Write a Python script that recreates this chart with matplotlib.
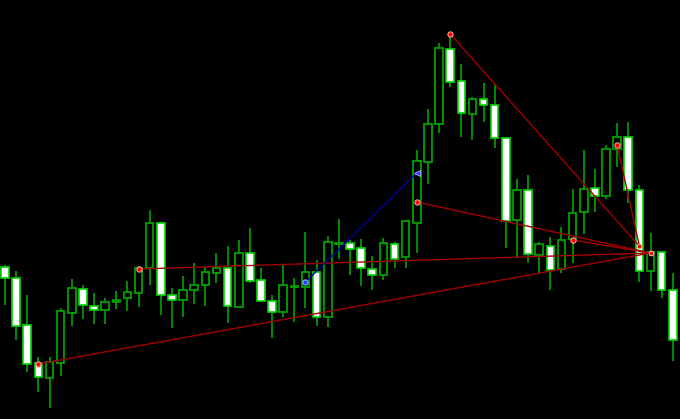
import matplotlib
matplotlib.use("Agg")
import matplotlib.pyplot as plt
from matplotlib.patches import Rectangle

opens  = [152,141,94,56,41,56,106,130,113,109,117,121,126,151,196,124,119,129,134,146,
          151,112,166,139,118,107,132,132,147,102,175,176,171,150,144,175,162,196,257,295,
          370,338,305,320,314,281,199,229,164,173,150,180,207,231,223,270,282,229,148,167,129]
highs  = [154,148,124,62,62,111,140,134,126,121,128,138,153,209,197,131,143,156,152,166,
          173,179,191,151,124,155,141,187,159,183,200,179,180,163,181,177,198,269,310,376,
          386,355,322,336,334,281,240,244,177,182,192,230,269,250,274,296,297,234,186,167,146]
lows   = [114,79,47,27,11,43,93,100,95,95,110,108,112,134,104,91,102,115,113,136,
          96,112,136,117,81,102,97,111,93,92,160,144,133,129,139,151,151,166,235,286,
          332,282,279,297,271,171,161,156,146,129,146,156,185,207,220,252,216,137,128,121,58]
closes = [141,93,55,42,57,108,131,114,109,117,119,127,151,196,124,119,129,134,147,151,
          113,166,138,118,107,134,133,147,102,177,176,170,151,144,176,160,198,258,295,371,
          337,306,320,314,281,198,229,165,175,149,179,206,230,223,270,282,229,148,167,129,79]

# trend lines: (start index, start price, end index, end price)
red_lines = [(3, 55, 58, 166), (12, 150, 58, 166), (37, 217, 58, 166), (51, 179, 58, 166),
             (40, 385, 57, 173), (55, 274, 57, 173)]
blue_lines = [(27, 137, 37, 246)]

fig = plt.figure(figsize=(6.8, 4.19), dpi=100)
fig.patch.set_facecolor("black")
ax = fig.add_axes([0, 0, 1, 1])
ax.set_facecolor("black")
ax.set_xlim(-0.449, 60.65)
ax.set_ylim(0, 419)
ax.axis("off")

w = 0.68
for i, (o, h, l, c) in enumerate(zip(opens, highs, lows, closes)):
    ax.plot([i, i], [l, h], color="#00b400", lw=1.1, zorder=1, solid_capstyle="butt")
    bull = c >= o
    bottom = min(o, c)
    height = max(abs(c - o), 1)
    if bull:
        rect = Rectangle((i - w / 2, bottom), w, height, facecolor="black",
                         edgecolor="#00a000", lw=1.3, zorder=2)
    else:
        rect = Rectangle((i - w / 2, bottom), w, height, facecolor="white",
                         edgecolor="#00d800", lw=1.2, zorder=2)
    ax.add_patch(rect)

for x0, y0, x1, y1 in red_lines:
    ax.plot([x0, x1], [y0, y1], color="#a00000", lw=1.0, zorder=3)
    ax.plot([x0], [y0], marker="o", ms=3.8, mfc="#ff0000", mec="#ffb0b0", mew=0.7, zorder=4)
    ax.plot([x1], [y1], marker="o", ms=3.2, mfc="#ff0000", mec="#ffb0b0", mew=0.6, zorder=4)

for x0, y0, x1, y1 in blue_lines:
    ax.plot([x0, x1], [y0, y1], color="#0000a0", lw=1.0, zorder=3)
    ax.plot([x0], [y0], marker="o", ms=3.8, mfc="#2040ff", mec="#b0b0ff", mew=0.7, zorder=4)
    ax.plot([x1], [y1], marker="<", ms=5, mfc="#2040ff", mec="#b0b0ff", mew=0.6, zorder=4)

fig.savefig("out.png", dpi=100, facecolor="black")
